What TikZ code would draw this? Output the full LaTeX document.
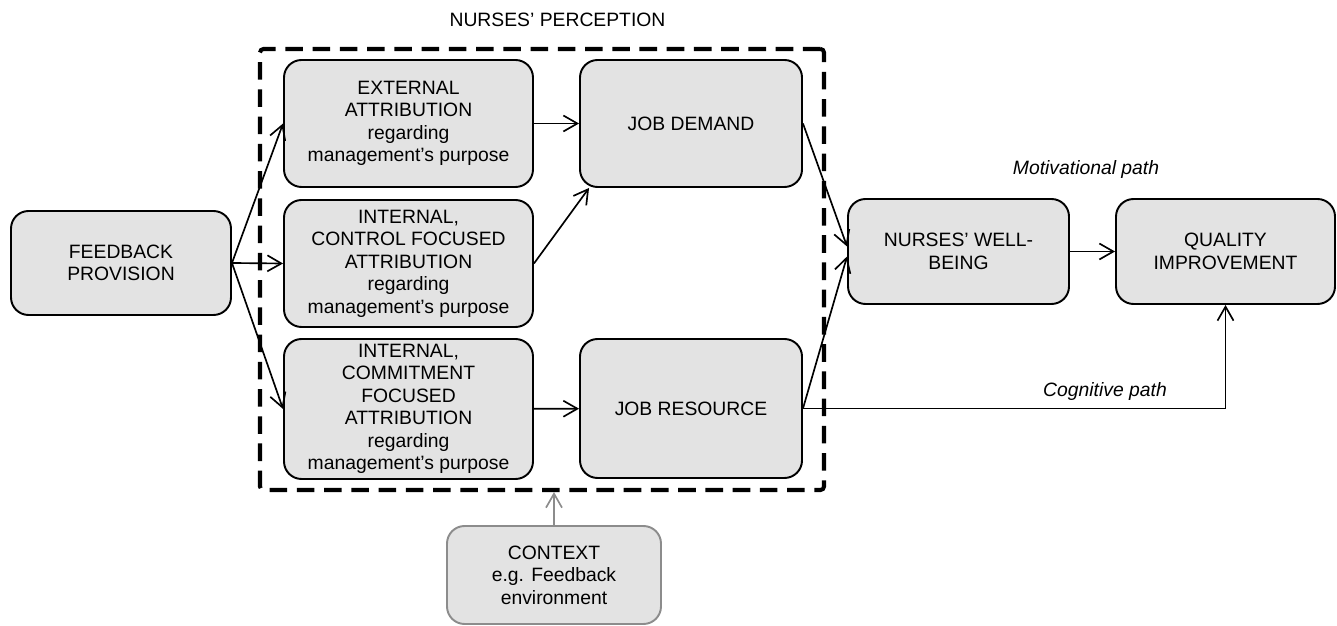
\documentclass[tikz,border=0pt]{standalone}
\usepackage{fontspec}
\setmainfont{Liberation Sans}
\usepackage{xcolor}
\definecolor{boxgray}{HTML}{E3E3E3}
\definecolor{ctxgray}{HTML}{8C8C8C}
\usepackage{tikz}
\usetikzlibrary{arrows.meta,positioning,calc}
\tikzset{
    block/.style={draw=black, fill=boxgray, rounded corners=10pt, line width=1.1pt, align=center, font=\fontsize{11}{12.8}\selectfont, inner sep=2pt},
    ctxblock/.style={block, draw=ctxgray},
    percframe/.style={draw=black, line width=2.3pt, dash pattern=on 10pt off 5.5pt, rounded corners=2pt, inner sep=0pt},
    arrow/.style={-{Straight Barb[length=2.8mm,width=3.2mm]}, line width=0.95pt, black},
    ctxarrow/.style={arrow, ctxgray},
    pathlabel/.style={font=\fontsize{11}{12.8}\selectfont\itshape}
}

\begin{document}
\begin{tikzpicture}
  \useasboundingbox (0,0) rectangle (26.74,12.5);

  % Perception frame
  \node[percframe, minimum width=11.28cm, minimum height=8.82cm] (perception) at (10.84, 7.11) {};
  \node[font=\fontsize{11}{12.8}\selectfont] (perclabel) at (11.15, 12.1) {NURSES’ PERCEPTION};

  % Model nodes
  \node[block, minimum width=4.4cm, minimum height=2.08cm] (feedback) at (2.42, 7.24) {FEEDBACK\\PROVISION};

  \node[block, minimum width=4.98cm, minimum height=2.54cm] (external) at (8.17, 10.03) {
    EXTERNAL\\ATTRIBUTION\\regarding\\management’s purpose
  };
  \node[block, minimum width=4.98cm, minimum height=2.54cm] (control) at (8.17, 7.23) {
    INTERNAL,\\CONTROL FOCUSED\\ATTRIBUTION\\regarding\\management’s purpose
  };
  \node[block, minimum width=4.98cm, minimum height=2.8cm] (commitment) at (8.17, 4.32) {
    INTERNAL,\\COMMITMENT\\FOCUSED\\ATTRIBUTION\\regarding\\management’s purpose
  };

  \node[block, minimum width=4.44cm, minimum height=2.54cm] (demand) at (13.82, 10.03) {JOB DEMAND};
  \node[block, minimum width=4.44cm, minimum height=2.78cm] (resource) at (13.82, 4.33) {JOB RESOURCE};

  \node[block, minimum width=4.42cm, minimum height=2.1cm] (wellbeing) at (19.17, 7.47) {NURSES’ WELL-\\BEING};
  \node[block, minimum width=4.38cm, minimum height=2.1cm] (quality) at (24.51, 7.47) {QUALITY\\IMPROVEMENT};

  \node[ctxblock, minimum width=4.28cm, minimum height=1.96cm] (context) at (11.08, 1.0) {
    CONTEXT\\e.g. Feedback\\environment
  };

  % Path labels
  \node[pathlabel] (motivlabel) at (21.72, 9.1) {Motivational path};
  \node[pathlabel] (cognlabel) at (22.1, 4.66) {Cognitive path};

  % Connecting arrows
  \draw[arrow] (feedback.east) -- (external.west);
  \draw[arrow] (feedback.east) -- (control.west);
  \draw[arrow] (feedback.east) -- (commitment.west);
  \draw[arrow] (external) -- (demand);
  \draw[arrow] (control.east) -- ([xshift=0.2cm]demand.south west);
  \draw[arrow] (commitment) -- (resource);
  \draw[arrow] (demand.east) -- ([yshift=0.1cm]wellbeing.west);
  \draw[arrow] (resource.east) -- ([yshift=-0.1cm]wellbeing.west);
  \draw[arrow] (wellbeing) -- (quality);
  \draw[arrow] (resource.east) -| (quality.south);
  \draw[ctxarrow] (context.north) -- (context.north |- perception.south);
\end{tikzpicture}
\end{document}
